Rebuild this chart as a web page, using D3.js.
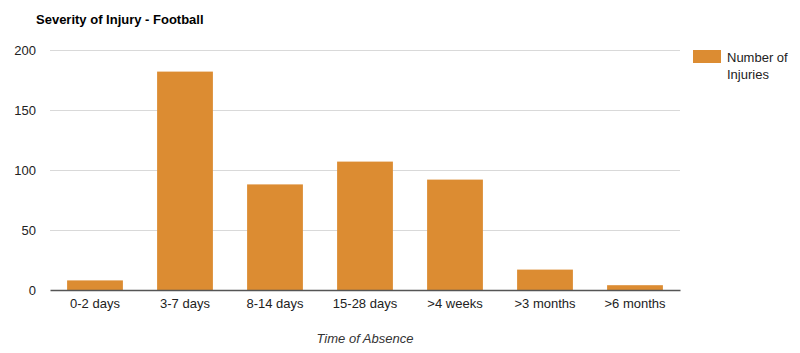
<!DOCTYPE html>
<html>
<head>
<meta charset="utf-8">
<script src="https://d3js.org/d3.v7.min.js"></script>
<style>
  body { margin: 0; background: #fff; }
  text { font-family: "Liberation Sans", Arial, sans-serif; }
</style>
</head>
<body>
<div id="chart"></div>
<script>
// chart data
var categories = ["0-2 days", "3-7 days", "8-14 days", "15-28 days", ">4 weeks", ">3 months", ">6 months"];
var injuries = [8, 182, 88, 107, 92, 17, 4];
var yTicks = [0, 50, 100, 150, 200];

var barColor = "#dc8c32";

// set the dimensions and margins of the graph
var margin = {top: 50, right: 120, bottom: 63, left: 50},
    width = 800 - margin.left - margin.right,
    height = 353 - margin.top - margin.bottom;

var root = d3.select("#chart")
  .append("svg")
    .attr("width", 800)
    .attr("height", 353);

var svg = root.append("g")
    .attr("transform", "translate(" + margin.left + "," + margin.top + ")");

// title
root.append("text")
    .attr("x", 36)
    .attr("y", 24)
    .style("font-size", "13px")
    .style("font-weight", "bold")
    .style("fill", "#000")
    .text("Severity of Injury - Football");

var x = d3.scaleBand()
    .domain(categories)
    .range([0, width])
    .paddingInner(0.38)
    .paddingOuter(0.19);

var y = d3.scaleLinear()
    .domain([0, 200])
    .range([height, 0]);

// gridlines
svg.selectAll(".grid")
    .data(yTicks.slice(1))
    .enter()
    .append("line")
      .attr("x1", 0)
      .attr("x2", width)
      .attr("y1", function(d) { return y(d) + 0.5; })
      .attr("y2", function(d) { return y(d) + 0.5; })
      .style("stroke", "#d9d9d9")
      .style("stroke-width", 1);

// y axis labels
var yAxis = svg.append("g")
    .call(d3.axisLeft(y).tickValues(yTicks).tickSize(0).tickPadding(14));
yAxis.select(".domain").remove();
yAxis.selectAll("text")
    .style("font-size", "13px")
    .style("fill", "#222")
    .style("font-family", "Liberation Sans, Arial, sans-serif");

// bars
svg.selectAll("rect.bar")
    .data(injuries)
    .enter()
    .append("rect")
      .attr("class", "bar")
      .attr("x", function(d, i) { return x(categories[i]); })
      .attr("y", function(d) { return y(d); })
      .attr("width", x.bandwidth())
      .attr("height", function(d) { return height - y(d); })
      .style("fill", barColor);

// x axis
var xAxis = svg.append("g")
    .attr("transform", "translate(0," + height + ")")
    .call(d3.axisBottom(x).tickSize(0).tickPadding(9));
xAxis.select(".domain")
    .style("stroke", "#555")
    .style("stroke-width", 1.5);
xAxis.selectAll("text")
    .style("font-size", "13px")
    .style("fill", "#222")
    .style("font-family", "Liberation Sans, Arial, sans-serif");

// x axis title
svg.append("text")
    .attr("x", width / 2)
    .attr("y", height + 53)
    .attr("text-anchor", "middle")
    .style("font-size", "13px")
    .style("font-style", "italic")
    .style("fill", "#333")
    .text("Time of Absence");

// legend
var legend = root.append("g")
    .attr("transform", "translate(693,50)");
legend.append("rect")
    .attr("width", 28)
    .attr("height", 13)
    .style("fill", barColor);
legend.append("text")
    .attr("x", 34)
    .attr("y", 12)
    .style("font-size", "13px")
    .style("fill", "#222")
    .text("Number of");
legend.append("text")
    .attr("x", 34)
    .attr("y", 29)
    .style("font-size", "13px")
    .style("fill", "#222")
    .text("Injuries");
</script>
</body>
</html>
